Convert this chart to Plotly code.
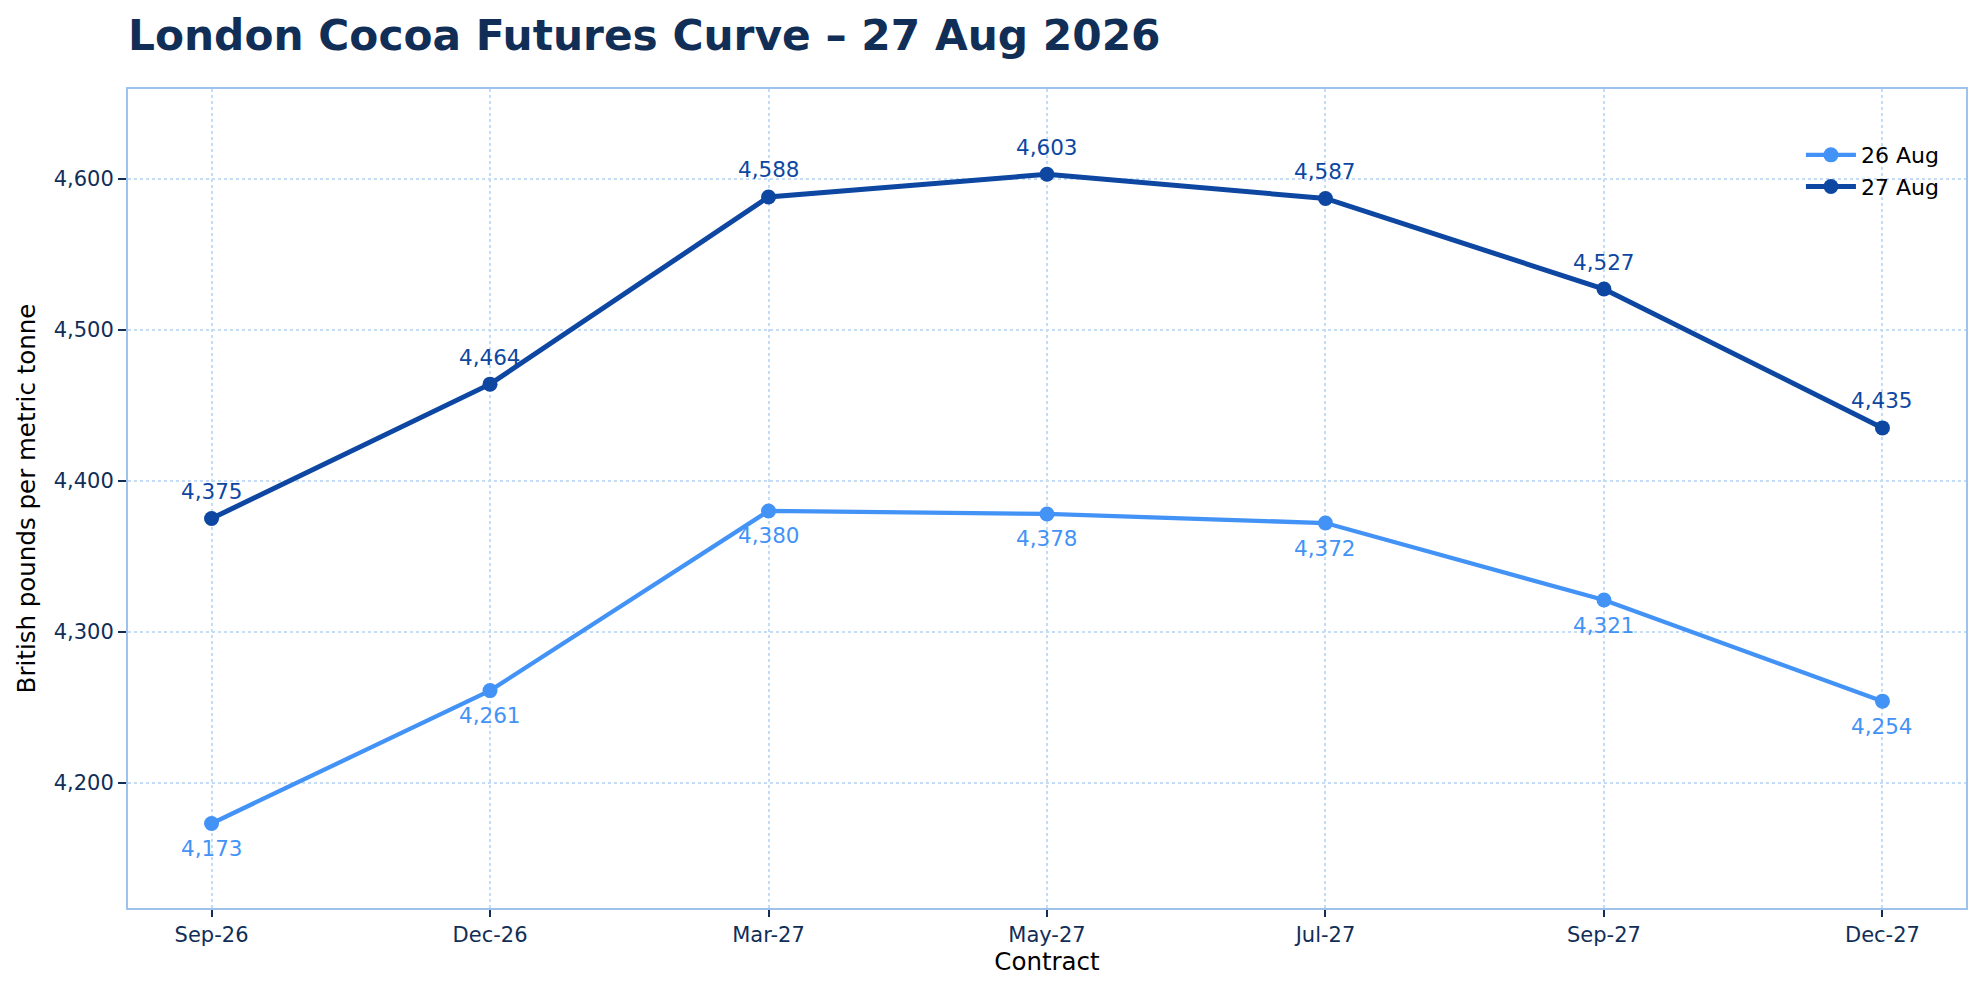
import plotly.graph_objects as go

# contract months and settlement prices (GBP / tonne)
contracts = ["Sep-26", "Dec-26", "Mar-27", "May-27", "Jul-27", "Sep-27", "Dec-27"]
aug26 = [4173, 4261, 4380, 4378, 4372, 4321, 4254]
aug27 = [4375, 4464, 4588, 4603, 4587, 4527, 4435]
y_ticks = [4200, 4300, 4400, 4500, 4600]

LIGHT = "#4393F7"
DARK = "#0D47A1"
NAVY = "#112E57"
FONT = "DejaVu Sans"

fig = go.Figure()
fig.add_trace(go.Scatter(
    x=contracts, y=aug26, name="26 Aug", mode="lines+markers",
    line=dict(color=LIGHT, width=4.3), marker=dict(size=15, color=LIGHT),
))
fig.add_trace(go.Scatter(
    x=contracts, y=aug27, name="27 Aug", mode="lines+markers",
    line=dict(color=DARK, width=5), marker=dict(size=15, color=DARK),
))

# value labels: 26 Aug below the points, 27 Aug above
annotations = []
for c, v in zip(contracts, aug26):
    annotations.append(dict(x=c, y=v, text=f"{v:,}", showarrow=False, yshift=-25,
                            font=dict(family=FONT, size=21.5, color=LIGHT)))
for c, v in zip(contracts, aug27):
    annotations.append(dict(x=c, y=v, text=f"{v:,}", showarrow=False, yshift=27,
                            font=dict(family=FONT, size=21.5, color=DARK)))

# page body has an 8px margin, so the figure is sized to fit inside the window
fig.update_layout(
    width=1968, height=976,
    margin=dict(l=120, r=8, t=81, b=76),
    paper_bgcolor="white", plot_bgcolor="white",
    font=dict(family=FONT, color=NAVY, size=21),
    title=dict(text="<b>London Cocoa Futures Curve – 27 Aug 2026</b>",
               font=dict(family=FONT, size=42.3, color=NAVY),
               xref="container", x=120 / 1968, xanchor="left",
               yref="container", y=1 - 27 / 976, yanchor="middle"),
    legend=dict(x=0.988, xanchor="right", y=0.945, yanchor="top",
                bgcolor="rgba(0,0,0,0)", itemwidth=50,
                font=dict(family=FONT, size=22, color="black")),
    annotations=annotations,
    showlegend=True,
)
fig.update_xaxes(
    range=[-0.3, 6.3], showline=True, linecolor="#9DC3EC", linewidth=2, mirror=True,
    showgrid=True, gridcolor="#C4DCF6", griddash="dot", gridwidth=1.5,
    ticks="outside", ticklen=7, tickcolor=NAVY, tickwidth=1.5,
    tickfont=dict(size=21, color=NAVY),
    title=dict(text="Contract", font=dict(size=24.5, color="black"), standoff=7),
)
fig.update_yaxes(
    range=[4117, 4659.5], tickvals=y_ticks, tickformat=",",
    showline=True, linecolor="#9DC3EC", linewidth=2, mirror=True,
    showgrid=True, gridcolor="#C4DCF6", griddash="dot", gridwidth=1.5,
    zeroline=False,
    ticks="outside", ticklen=8, tickcolor=NAVY, tickwidth=1.5,
    tickfont=dict(size=21, color=NAVY),
    title=dict(text="British pounds per metric tonne", font=dict(size=24.5, color="black"), standoff=11),
)

fig.write_html("out.html")
